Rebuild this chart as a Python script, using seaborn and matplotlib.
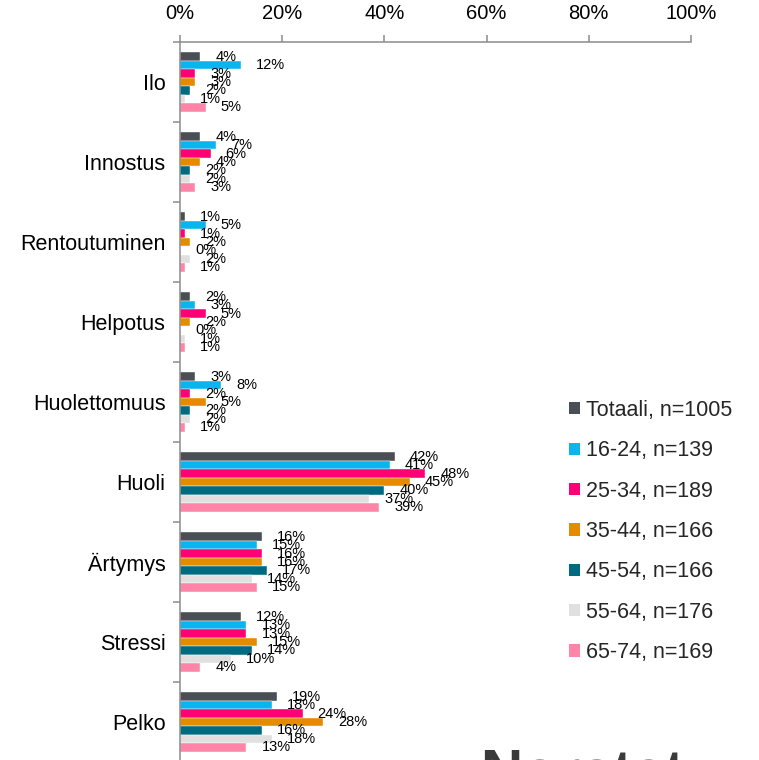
import numpy as np
import pandas as pd
import matplotlib
matplotlib.use("Agg")
import matplotlib.pyplot as plt
from matplotlib.patches import Patch
from matplotlib.ticker import FuncFormatter, FixedLocator
import seaborn as sns

categories = ["Ilo", "Innostus", "Rentoutuminen", "Helpotus", "Huolettomuus",
              "Huoli", "Ärtymys", "Stressi", "Pelko"]
groups = ["Totaali, n=1005", "16-24, n=139", "25-34, n=189", "35-44, n=166",
          "45-54, n=166", "55-64, n=176", "65-74, n=169"]
totaali = [4, 4, 1, 2, 3, 42, 16, 12, 19]
g16_24 = [12, 7, 5, 3, 8, 41, 15, 13, 18]
g25_34 = [3, 6, 1, 5, 2, 48, 16, 13, 24]
g35_44 = [3, 4, 2, 2, 5, 45, 16, 15, 28]
g45_54 = [2, 2, 0, 0, 2, 40, 17, 14, 16]
g55_64 = [1, 2, 2, 1, 2, 37, 14, 10, 18]
g65_74 = [5, 3, 1, 1, 1, 39, 15, 4, 13]
colors = ["#4a4f55", "#0ab4ed", "#ff0077", "#e68a00", "#006b80", "#e0e0e0", "#ff85a8"]

series = [totaali, g16_24, g25_34, g35_44, g45_54, g55_64, g65_74]
rows = []
for g, vals in zip(groups, series):
    for c, v in zip(categories, vals):
        rows.append({"cat": c, "group": g, "val": v})
df = pd.DataFrame(rows)

sns.set_theme(style="white")
plt.rcParams["font.family"] = ["Liberation Sans", "DejaVu Sans"]

fig = plt.figure(figsize=(7.59, 7.60), dpi=100)
ax = fig.add_axes([180 / 759, -2 / 760, (691 - 180) / 759, (762 - 42) / 760])

sns.barplot(data=df, y="cat", x="val", hue="group", order=categories,
            hue_order=groups, palette=colors, saturation=1, orient="h",
            width=0.74, edgecolor="white", linewidth=0.3, legend=False, ax=ax)

for cont, vals in zip(ax.containers, series):
    ax.bar_label(cont, labels=[f"{v}%" for v in vals], padding=10.8,
                 fontsize=10.5, color="black")

ax.set_xlim(0, 100)
ax.set_ylim(len(categories) - 0.5, -0.5)
ax.xaxis.tick_top()
ax.set_xticks([0, 20, 40, 60, 80, 100])
ax.xaxis.set_major_formatter(FuncFormatter(lambda x, p: f"{int(x)}%"))
ax.set_xlabel("")
ax.set_ylabel("")

spine_c = "#8c8c8c"
for s in ["right", "bottom"]:
    ax.spines[s].set_visible(False)
for s in ["left", "top"]:
    ax.spines[s].set_color(spine_c)
    ax.spines[s].set_linewidth(1.1)

ax.tick_params(axis="x", which="major", top=True, bottom=False, length=5,
               width=1.1, color=spine_c, pad=9, labelsize=14.5, labelcolor="black")
ax.tick_params(axis="y", which="major", left=False, length=0, pad=10.5,
               labelsize=15.5, labelcolor="black")
ax.yaxis.set_minor_locator(FixedLocator(np.arange(-0.5, len(categories), 1.0)))
ax.tick_params(axis="y", which="minor", left=True, length=5, width=1.1,
               color=spine_c)

handles = [Patch(facecolor=c, edgecolor="none") for c in colors]
fig.legend(handles, groups, loc="upper left", bbox_to_anchor=(569 / 759, 1 - 400 / 760),
           frameon=False, fontsize=15.5, handlelength=0.5, handleheight=0.5,
           handletextpad=0.3, labelspacing=0.90, borderaxespad=0, borderpad=0)

fig.text(480 / 759, -0.054, "Norstat", fontsize=42, fontweight="bold",
         color="#3a3a3a", ha="left", va="bottom")

fig.savefig("out.png", dpi=100)
